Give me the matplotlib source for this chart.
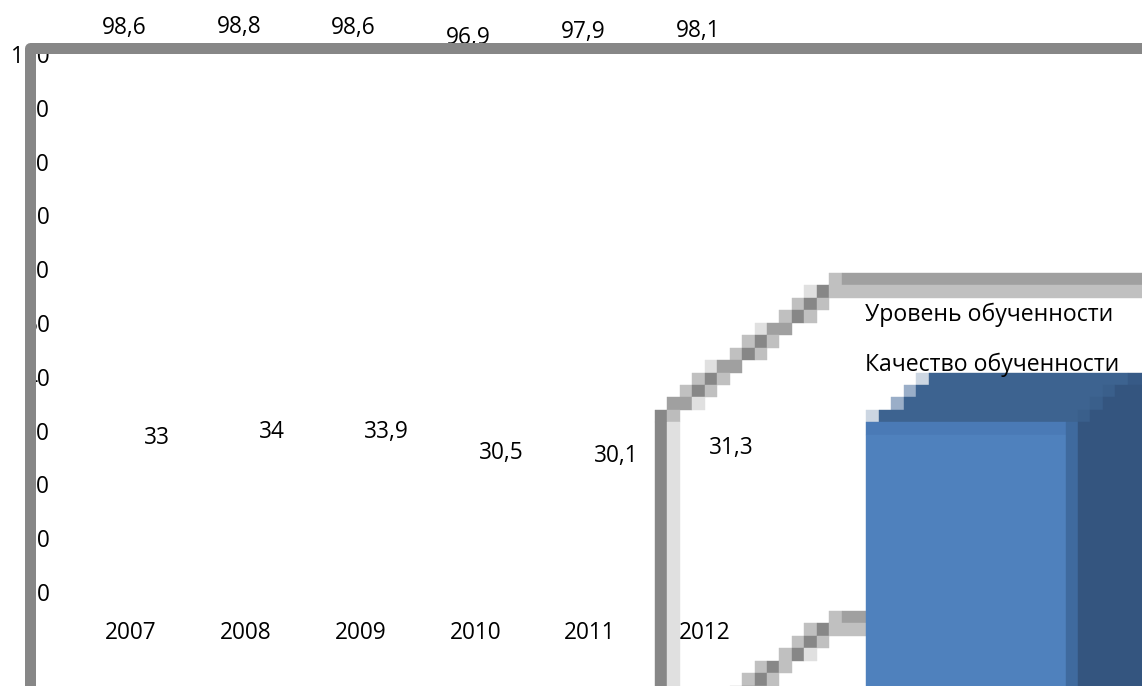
import matplotlib
matplotlib.use('Agg')
import matplotlib.pyplot as plt
from matplotlib.patches import Rectangle

plt.rcParams['font.family'] = ['Open Sans', 'DejaVu Sans']

# chart data
years = ['2007', '2008', '2009', '2010', '2011', '2012']
level = [98.6, 98.8, 98.6, 96.9, 97.9, 98.1]      # Уровень обученности
quality = [33, 34, 33.9, 30.5, 30.1, 31.3]        # Качество обученности
series_names = ['Уровень обученности', 'Качество обученности']
y_ticks = list(range(0, 101, 10))

W, H = 1142, 686
FS = 16.3
GRAY, A0, C0, E0, BC = '#878787', '#a0a0a0', '#c0c0c0', '#e0e0e0', '#bcbcbc'
BLUE, BAND, SIDE, DARK = '#4f81bd', '#4a7ab6', '#3f6a9e', '#34557f'
TOP, TOP2, L1, L2 = '#3d6390', '#3a5f8b', '#ccd6e2', '#9aaec8'
P = 12.44  # size of the blocky "pixels" of the broken legend art


def fmt(v):
    return f'{v:g}'.replace('.', ',')


fig = plt.figure(figsize=(W / 100, H / 100), dpi=100)

# value axis (only the tick labels survive in the original)
ax_t = fig.add_axes([50 / W, 0, 0.3, 1], zorder=1)
ax_t.set_ylim(-17.47, 110.04)
ax_t.set_yticks(y_ticks)
ax_t.set_yticklabels([str(t) for t in y_ticks], fontsize=FS)
ax_t.tick_params(axis='y', length=0, pad=0)
ax_t.set_xticks([])
for s in ax_t.spines.values():
    s.set_visible(False)
ax_t.patch.set_visible(False)

# data labels and categories
ax = fig.add_axes([0, 0, 1, 1], zorder=2)
ax.set_xlim(-1.141, 8.807)
ax.set_ylim(-8.05, 103.14)
ax.axis('off')
for i, (a, q) in enumerate(zip(level, quality)):
    ax.annotate(fmt(a), (i, a), xytext=(-7, 0), textcoords='offset pixels',
                ha='center', va='center', fontsize=FS)
    ax.annotate(fmt(q), (i, q), xytext=(26, -5), textcoords='offset pixels',
                ha='center', va='center', fontsize=FS)
    ax.annotate(years[i], (i, 0), xytext=(0, 3), textcoords='offset pixels',
                ha='center', va='center', fontsize=FS)

# frame + legend art, in pixel coordinates
deco = fig.add_axes([0, 0, 1, 1], zorder=3)
deco.set_xlim(0, W)
deco.set_ylim(H, 0)
deco.axis('off')

deco.plot([29.5, 29.5, W + 20], [H + 20, 48, 48], color=GRAY, lw=11 * 0.72,
          solid_joinstyle='round', solid_capstyle='butt', clip_on=False)


def block(k, j, c, nk=1, nj=1, y0=273):
    x, y = 655 + P * k, y0 + P * j
    if nk == 'end':
        nk = (W - x) / P + 1
    if nj == 'end':
        nj = (H - y) / P + 1
    deco.add_patch(Rectangle((x, y), P * nk, P * nj, facecolor=c, edgecolor=c, lw=0.3))


upper = [
    (0, [(14, C0, 1), (15, A0, 'end')]),
    (1, [(12, E0, 1), (13, GRAY, 1), (14, C0, 'end')]),
    (2, [(11, C0, 1), (12, GRAY, 1), (13, C0, 1)]),
    (3, [(10, C0, 1), (11, GRAY, 1), (12, C0, 1)]),
    (4, [(8, E0, 1), (9, A0, 2)]),
    (5, [(7, C0, 1), (8, GRAY, 1), (9, C0, 1)]),
    (6, [(6, C0, 1), (7, GRAY, 1), (8, C0, 1)]),
    (7, [(4, E0, 1), (5, A0, 2)]),
    (8, [(3, C0, 1), (4, GRAY, 1), (5, C0, 1)]),
    (9, [(2, C0, 1), (3, GRAY, 1), (4, C0, 1)]),
    (10, [(1, A0, 2), (3, E0, 1)]),
    (11, [(0, GRAY, 1), (1, BC, 1)]),
]
for j, cells in upper:
    for k, c, n in cells:
        block(k, j, c, n)
block(0, 12, GRAY, 1, 'end')
block(1, 12, E0, 1, 'end')

lower = [
    (0, [(14, C0, 1), (15, A0, 2)]),
    (1, [(12, C0, 1), (13, GRAY, 1), (14, C0, 3)]),
    (2, [(11, C0, 1), (12, GRAY, 1), (13, C0, 1)]),
    (3, [(10, C0, 1), (11, GRAY, 1), (12, E0, 1)]),
    (4, [(8, C0, 1), (9, GRAY, 1), (10, C0, 1)]),
    (5, [(7, C0, 1), (8, GRAY, 1), (9, C0, 1)]),
    (6, [(6, C0, 1), (7, GRAY, 1), (8, C0, 1)]),
]
for j, cells in lower:
    for k, c, n in cells:
        block(k, j, c, n, y0=611)

# the blue 3D block of the legend key
box = [
    (8, [(21, L1, 1), (22, TOP, 16), (38, '#375a86', 'end')]),
    (9, [(20, L2, 1), (21, TOP, 15), (36, TOP2, 1), (37, DARK, 'end')]),
    (10, [(19, L2, 1), (20, TOP, 15), (35, TOP2, 1), (36, DARK, 'end')]),
    (11, [(17, L1, 1), (18, TOP, 16), (34, TOP2, 1), (35, DARK, 'end')]),
    (12, [(17, BAND, 16), (33, SIDE, 1), (34, DARK, 'end')]),
]
for j, cells in box:
    for k, c, n in cells:
        block(k, j, c, n)
block(17, 13, BLUE, 16, 'end')
block(33, 13, SIDE, 1, 'end')
block(34, 13, DARK, 'end', 'end')

deco.text(865, 321, series_names[0], va='baseline', ha='left', fontsize=16.6, zorder=5)
deco.text(865, 371, series_names[1], va='baseline', ha='left', fontsize=16.6, zorder=5)

fig.savefig('out.png', dpi=100)
